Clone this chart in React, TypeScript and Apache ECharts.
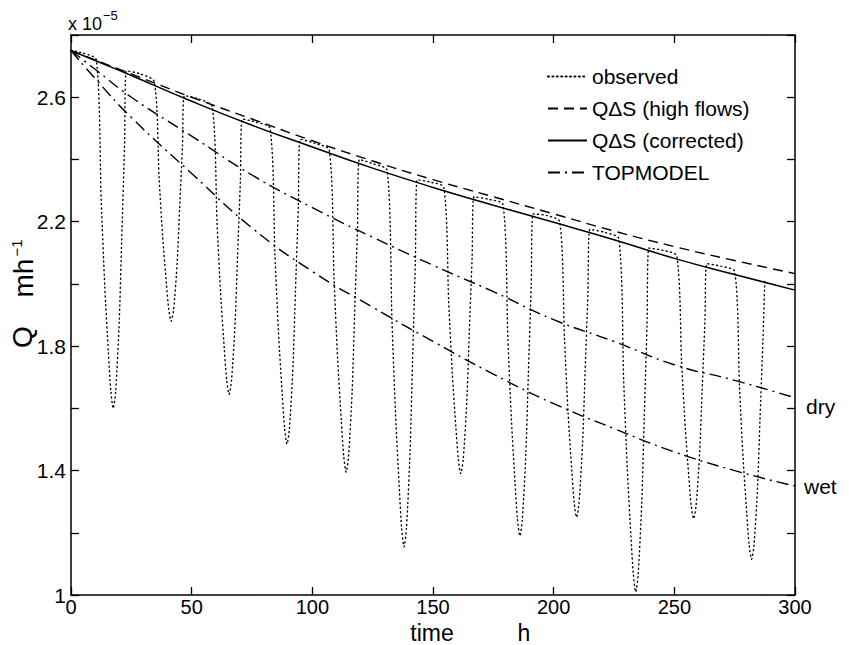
import React, { useEffect, useRef } from 'react';
import * as echarts from 'echarts';

// Model curves (Q in units of 1e-5 m/h), sampled at these times (h)
const modelTime = [0, 10, 25, 50, 75, 100, 125, 150, 175, 200, 225, 250, 275, 300];
const qdsHighFlows = [2.75, 2.72, 2.675, 2.6, 2.53, 2.46, 2.395, 2.335, 2.28, 2.225, 2.17, 2.12, 2.075, 2.033];
const qdsCorrected = [2.75, 2.718, 2.67, 2.587, 2.51, 2.44, 2.372, 2.31, 2.253, 2.198, 2.142, 2.082, 2.03, 1.98];
const topmodelDry = [2.75, 2.69, 2.6, 2.475, 2.35, 2.245, 2.15, 2.06, 1.975, 1.885, 1.815, 1.74, 1.69, 1.634];
const topmodelWet = [2.75, 2.66, 2.535, 2.355, 2.18, 2.04, 1.925, 1.815, 1.71, 1.615, 1.535, 1.46, 1.4, 1.35];

// Observed series
const observedTime = [
  0, 5, 10.5, 12.5, 14, 15.5, 16.5, 17.5, 18.5, 20, 21, 22.2, 23,
  28.75,
  34.5, 36.5, 38, 39.5, 40.5, 41.5, 42.5, 44, 45, 46.2, 47,
  52.75,
  58.5, 60.5, 62, 63.5, 64.5, 65.5, 66.5, 68, 69, 70.2, 71,
  76.75,
  82.5, 84.5, 86, 87.5, 88.5, 89.5, 90.5, 92, 93, 94.2, 95,
  101,
  107, 109, 110.5, 112, 113, 114, 115, 116.5, 117.5, 118.7, 119.5,
  125.25,
  131, 133, 134.5, 136, 137, 138, 139, 140.5, 141.5, 142.7, 143.5,
  149,
  154.5, 156.5, 158, 159.5, 160.5, 161.5, 162.5, 164, 165, 166.2, 167,
  173,
  179, 181, 182.5, 184, 185, 186, 187, 188.5, 189.5, 190.7, 191.5,
  197,
  202.5, 204.5, 206, 207.5, 208.5, 209.5, 210.5, 212, 213, 214.2, 215,
  221,
  227, 229, 230.5, 232, 233, 234, 235, 236.5, 237.5, 238.7, 239.5,
  245.25,
  251, 253, 254.5, 256, 257, 258, 259, 260.5, 261.5, 262.7, 263.5,
  269.25,
  275, 277, 278.5, 280, 281, 282, 283, 284.5, 285.5, 286.7, 287.5,
];
const observedQ = [
  2.75, 2.742, 2.72, 2.272, 1.992, 1.779, 1.656, 1.6, 1.654, 1.882, 2.142, 2.446, 2.685,
  2.675,
  2.65, 2.342, 2.15, 2.003, 1.918, 1.88, 1.916, 2.068, 2.242, 2.445, 2.605,
  2.595,
  2.57, 2.2, 1.969, 1.793, 1.691, 1.645, 1.689, 1.875, 2.087, 2.335, 2.53,
  2.52,
  2.5, 2.094, 1.84, 1.647, 1.536, 1.485, 1.534, 1.74, 1.975, 2.249, 2.465,
  2.452,
  2.43, 2.016, 1.757, 1.561, 1.447, 1.395, 1.445, 1.656, 1.897, 2.179, 2.4,
  2.386,
  2.365, 1.881, 1.578, 1.349, 1.215, 1.155, 1.214, 1.462, 1.745, 2.075, 2.335,
  2.327,
  2.31, 1.942, 1.712, 1.537, 1.436, 1.39, 1.434, 1.621, 1.835, 2.084, 2.28,
  2.272,
  2.255, 1.829, 1.563, 1.36, 1.243, 1.19, 1.242, 1.459, 1.707, 1.997, 2.225,
  2.22,
  2.2, 1.82, 1.582, 1.402, 1.297, 1.25, 1.296, 1.49, 1.712, 1.971, 2.175,
  2.166,
  2.145, 1.691, 1.407, 1.192, 1.067, 1.01, 1.065, 1.297, 1.562, 1.872, 2.115,
  2.108,
  2.09, 1.752, 1.541, 1.38, 1.287, 1.245, 1.286, 1.458, 1.655, 1.885, 2.065,
  2.057,
  2.04, 1.67, 1.439, 1.263, 1.161, 1.115, 1.16, 1.349, 1.565, 1.817, 2.015,
];

const yTickLabels = ['1', '1.4', '1.8', '2.2', '2.6'];
const legendNames = ['observed', 'Q\u0394S (high flows)', 'Q\u0394S (corrected)', 'TOPMODEL'];

const FONT = 'Liberation Sans, Arial, Helvetica, sans-serif';

export default function App() {
  const ref = useRef<HTMLDivElement>(null);
  useEffect(() => {
    document.body.style.margin = '0';
    const chart = echarts.init(ref.current!, null, { renderer: 'svg' });

    const axisLine = { onZero: false, lineStyle: { color: '#000', width: 1.5 } };
    const axisTick = { inside: true, length: 8, lineStyle: { color: '#000', width: 1.3 } };

    const pairs = (xs: number[], ys: number[]) => xs.map((x, i) => [x, ys[i]]);

    chart.setOption({
      animation: false,
      backgroundColor: '#fff',
      color: ['#000'],
      grid: { left: 71, right: 54, top: 35, bottom: 50, containLabel: false },
      legend: {
        data: legendNames,
        orient: 'vertical',
        left: 547,
        top: 66,
        itemWidth: 39,
        itemHeight: 14,
        itemGap: 11,
        padding: 0,
        selectedMode: false,
        itemStyle: { opacity: 0 },
        textStyle: { fontSize: 21, color: '#000', fontFamily: FONT },
      },
      xAxis: [
        {
          type: 'value', min: 0, max: 300, interval: 50, position: 'bottom',
          axisLine, axisTick,
          axisLabel: { color: '#000', fontSize: 20, fontFamily: FONT, margin: 2 },
          splitLine: { show: false },
        },
        {
          type: 'value', min: 0, max: 300, interval: 50, position: 'top',
          axisLine, axisTick, axisLabel: { show: false }, splitLine: { show: false },
        },
      ],
      yAxis: [
        {
          type: 'value', min: 1, max: 2.8, interval: 0.2, position: 'left',
          axisLine, axisTick,
          axisLabel: {
            color: '#000', fontSize: 21, fontFamily: FONT, margin: 5,
            formatter: (v: number) => {
              const s = String(Math.round(v * 10) / 10);
              return yTickLabels.includes(s) ? s : '';
            },
          },
          splitLine: { show: false },
        },
        {
          type: 'value', min: 1, max: 2.8, interval: 0.2, position: 'right',
          axisLine, axisTick, axisLabel: { show: false }, splitLine: { show: false },
        },
      ],
      series: [
        {
          name: legendNames[0], type: 'line', symbol: 'none', smooth: 0.25,
          data: pairs(observedTime, observedQ),
          itemStyle: { color: '#000' },
          lineStyle: { color: '#000', width: 1.4, type: [1, 3.4], cap: 'round' },
          z: 2,
        },
        {
          name: legendNames[1], type: 'line', symbol: 'none', smooth: true,
          data: pairs(modelTime, qdsHighFlows),
          itemStyle: { color: '#000' },
          lineStyle: { color: '#000', width: 1.4, type: [10, 6] },
          z: 3,
        },
        {
          name: legendNames[2], type: 'line', symbol: 'none', smooth: true,
          data: pairs(modelTime, qdsCorrected),
          itemStyle: { color: '#000' },
          lineStyle: { color: '#000', width: 1.5, type: 'solid' },
          z: 3,
        },
        {
          name: legendNames[3], type: 'line', symbol: 'none', smooth: true,
          data: pairs(modelTime, topmodelDry),
          itemStyle: { color: '#000' },
          lineStyle: { color: '#000', width: 1.4, type: [12, 5, 2, 5] },
          z: 3,
        },
        {
          name: 'TOPMODEL (wet)', type: 'line', symbol: 'none', smooth: true,
          data: pairs(modelTime, topmodelWet),
          itemStyle: { color: '#000' },
          lineStyle: { color: '#000', width: 1.4, type: [12, 5, 2, 5] },
          z: 3,
        },
      ],
      graphic: [
        { type: 'text', x: 68, y: 24, style: { text: 'x 10', font: `18px ${FONT}`, fill: '#000', verticalAlign: 'middle' } },
        { type: 'text', x: 103, y: 15, style: { text: '\u22125', font: `13px ${FONT}`, fill: '#000', verticalAlign: 'middle' } },
        { type: 'text', x: 22.5, y: 337, rotation: Math.PI / 2, style: { text: 'Q', font: `28px ${FONT}`, fill: '#000', align: 'center', verticalAlign: 'middle' } },
        { type: 'text', x: 23, y: 278, rotation: Math.PI / 2, style: { text: 'mh', font: `28px ${FONT}`, fill: '#000', align: 'center', verticalAlign: 'middle' } },
        { type: 'text', x: 16.5, y: 248, rotation: Math.PI / 2, style: { text: '\u22121', font: `15px ${FONT}`, fill: '#000', align: 'center', verticalAlign: 'middle' } },
        { type: 'text', x: 432, y: 632.5, style: { text: 'time', font: `23px ${FONT}`, fill: '#000', align: 'center', verticalAlign: 'middle' } },
        { type: 'text', x: 524, y: 632.5, style: { text: 'h', font: `23px ${FONT}`, fill: '#000', align: 'center', verticalAlign: 'middle' } },
        { type: 'text', x: 806, y: 406, style: { text: 'dry', font: `21px ${FONT}`, fill: '#000', verticalAlign: 'middle' } },
        { type: 'text', x: 804, y: 486, style: { text: 'wet', font: `21px ${FONT}`, fill: '#000', verticalAlign: 'middle' } },
      ],
    });
    return () => chart.dispose();
  }, []);
  return <div ref={ref} style={{ width: 849, height: 645 }} />;
}
